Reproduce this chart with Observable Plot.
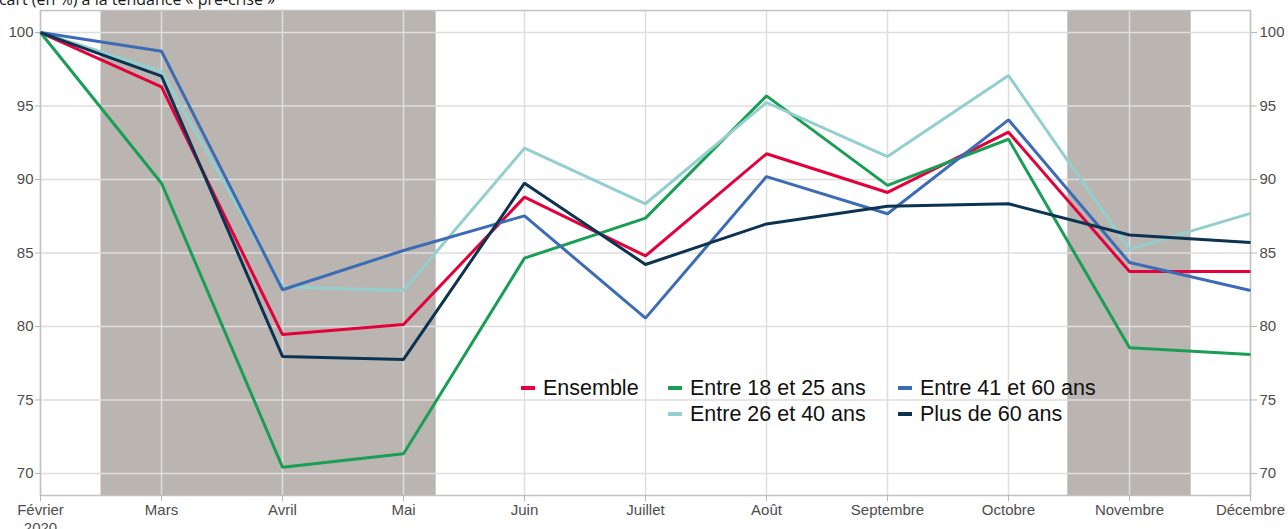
<!DOCTYPE html>
<html>
<head>
<meta charset="utf-8">
<script src="https://cdn.jsdelivr.net/npm/d3@7"></script>
<script src="https://cdn.jsdelivr.net/npm/@observablehq/plot@0.6"></script>
<style>
  html, body { margin: 0; padding: 0; background: #fff; overflow: hidden; }
  #wrap { position: relative; width: 1288px; height: 529px; }
  #title { position: absolute; left: -10px; top: -12px; font-family: "Open Sans", sans-serif; font-size: 16px; line-height: 22px; color: #1a1a1a; white-space: nowrap; }
  #legend { position: absolute; left: 521px; top: 377px; width: 600px; height: 50px; font-family: "Liberation Sans", Arial, sans-serif; font-size: 21.5px; color: #111; }
  .item { position: absolute; display: flex; align-items: center; height: 22px; white-space: nowrap; }
  .sw { flex: 0 0 14px; width: 14px; height: 4px; margin-right: 8px; }
</style>
</head>
<body>
<div id="wrap">
  <div id="chart"></div>
  <div id="title">Écart (en %) à la tendance « pré-crise »</div>
  <div id="legend"></div>
</div>
<script>
const months = ["Février\n2020","Mars","Avril","Mai","Juin","Juillet","Août","Septembre","Octobre","Novembre","Décembre"];
const seriesNames = ["Ensemble","Entre 18 et 25 ans","Entre 26 et 40 ans","Entre 41 et 60 ans","Plus de 60 ans"];
const seriesColors = ["#e3003b","#1a9e55","#94cfcf","#3c6cb5","#0c3352"];
const ensemble = [100, 96.3, 79.45, 80.14, 88.8, 84.8, 91.75, 89.12, 93.22, 83.74, 83.74];
const age18_25 = [100, 89.75, 70.43, 71.34, 84.65, 87.37, 95.69, 89.6, 92.74, 78.55, 78.1];
const age26_40 = [100, 97.37, 82.7, 82.45, 92.13, 88.35, 95.24, 91.56, 97.07, 85.25, 87.7];
const age41_60 = [100, 98.73, 82.5, 85.17, 87.53, 80.57, 90.2, 87.67, 94.06, 84.35, 82.45];
const age60plus = [100, 97.03, 77.96, 77.76, 89.75, 84.22, 86.98, 88.18, 88.35, 86.22, 85.71];
const shadeStart = [0.5, 8.49];
const shadeEnd = [3.27, 9.51];
const yTicks = [70, 75, 80, 85, 90, 95, 100];

const allSeries = [ensemble, age18_25, age26_40, age41_60, age60plus];
const data = [];
allSeries.forEach((vals, s) => vals.forEach((v, i) => data.push({series: seriesNames[s], i, v})));
const shades = shadeStart.map((a, k) => ({a, b: shadeEnd[k]}));
const monthIdx = d3.range(months.length);

const font = "Liberation Sans, Arial, sans-serif";
const chart = Plot.plot({
  width: 1288,
  height: 529,
  marginLeft: 40,
  marginRight: 38,
  marginTop: 10,
  marginBottom: 34,
  style: {fontFamily: font, fontSize: "15px", background: "transparent"},
  x: {type: "linear", domain: [0, 10], axis: null},
  y: {domain: [68.5, 101.5], axis: null},
  color: {domain: seriesNames, range: seriesColors},
  marks: [
    Plot.rect(shades, {x1: "a", x2: "b", fill: "#bab5b1"}),
    Plot.gridY(yTicks, {stroke: "#dedede", strokeOpacity: 1, strokeWidth: 1.5}),
    Plot.gridX(monthIdx, {stroke: "#dedede", strokeOpacity: 1, strokeWidth: 1.5}),
    Plot.frame({stroke: "#c2c2c2", strokeWidth: 1.5}),
    Plot.axisY(yTicks, {anchor: "left", tickSize: 5, tickPadding: 2, stroke: "#b5b5b5", fill: "#4d4d4d", label: null}),
    Plot.axisY(yTicks, {anchor: "right", tickSize: 6, tickPadding: 3, stroke: "#b5b5b5", fill: "#4d4d4d", label: null}),
    Plot.axisX(monthIdx, {anchor: "bottom", tickSize: 6, tickPadding: 1, stroke: "#b5b5b5", fill: "#4d4d4d", tickFormat: i => months[i], label: null, lineHeight: 1.2}),
    Plot.line(data, {x: "i", y: "v", z: "series", stroke: "series", strokeWidth: 3, strokeLinejoin: "miter", strokeLinecap: "butt"})
  ]
});
document.getElementById("chart").appendChild(chart);

// legend: 3 columns x 2 rows, column-wise order
const legend = document.getElementById("legend");
const colLeft = [0, 147, 377];
const rowTop = [0, 26];
const cells = [
  {s: 0, col: 0, row: 0},
  {s: 1, col: 1, row: 0},
  {s: 2, col: 1, row: 1},
  {s: 3, col: 2, row: 0},
  {s: 4, col: 2, row: 1}
];
cells.forEach(c => {
  const div = document.createElement("div");
  div.className = "item";
  div.style.left = colLeft[c.col] + "px";
  div.style.top = rowTop[c.row] + "px";
  const sw = document.createElement("span");
  sw.className = "sw";
  sw.style.background = seriesColors[c.s];
  const t = document.createElement("span");
  t.textContent = seriesNames[c.s];
  div.appendChild(sw);
  div.appendChild(t);
  legend.appendChild(div);
});
</script>
</body>
</html>
